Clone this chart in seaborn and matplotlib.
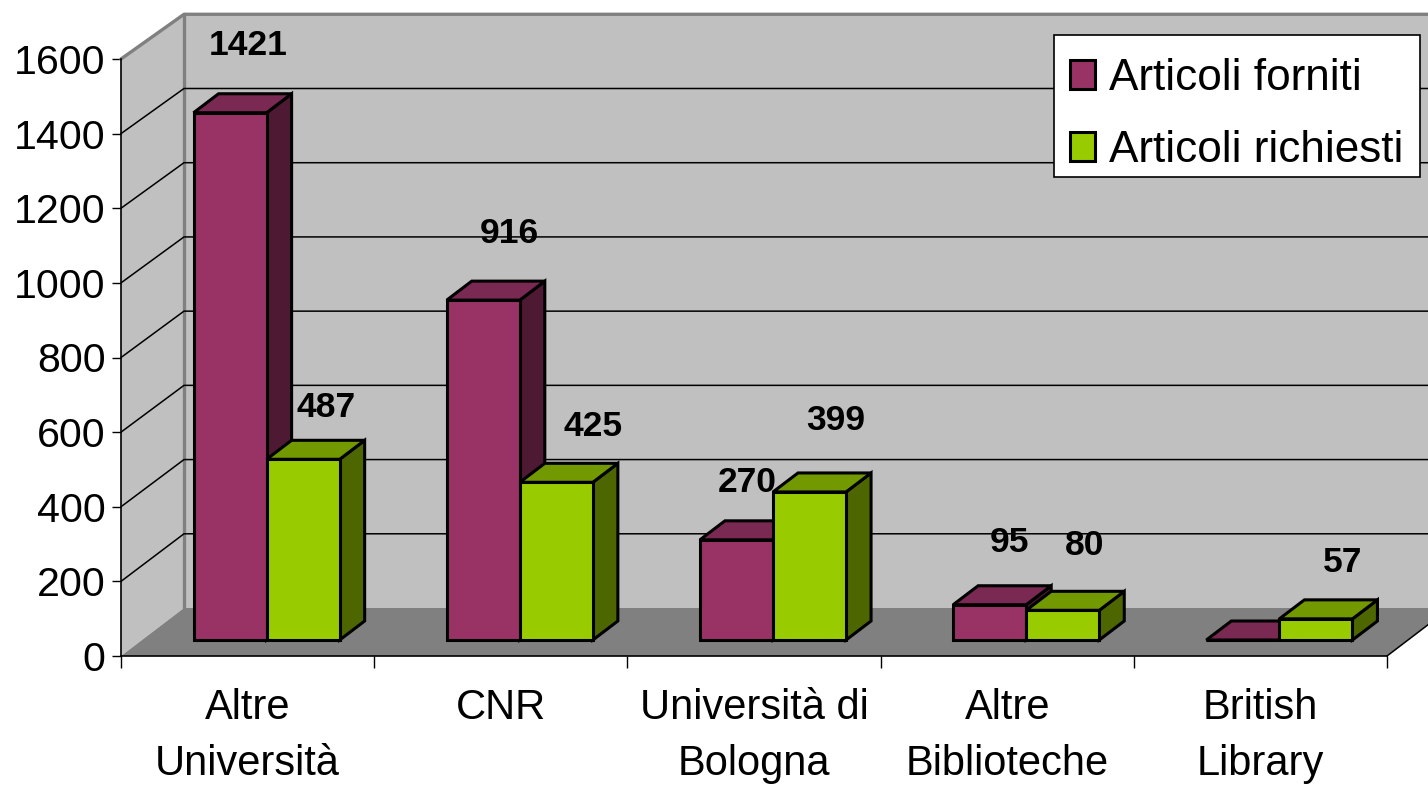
# -*- coding: utf-8 -*-
"""Articoli forniti / richiesti : barres facon Excel 3D, dessinees avec seaborn."""

import matplotlib
matplotlib.use("Agg")
import matplotlib.pyplot as plt
from matplotlib.patches import Polygon, Rectangle
import pandas as pd
import seaborn as sns

# ---------------------------------------------------------------------------
# DATA
# ---------------------------------------------------------------------------
CATEGORIES = ["Altre\nUniversità", "CNR", "Università di\nBologna",
              "Altre\nBiblioteche", "British\nLibrary"]
FORNITI = [1421, 916, 270, 95, 0]
RICHIESTI = [487, 425, 399, 80, 57]
SERIES_NAMES = ["Articoli forniti", "Articoli richiesti"]
Y_TICKS = [0, 200, 400, 600, 800, 1000, 1200, 1400, 1600]

# ---------------------------------------------------------------------------
# STYLE (pixels of the 1428x785 picture)
# ---------------------------------------------------------------------------
W, H = 1428, 785
LEFT, RIGHT, BASE, TOP = 121, 1387, 656, 59
WALL_DX, WALL_DY = 63, 48      # depth of the chart box
WALL_SCALE = 0.9945            # back wall is a touch shorter than the front axis
BAR_SHIFT = (19, 16)           # bars stand on the middle of the floor
BAR_DX, BAR_DY = 25, 19        # depth of a bar
BAR_YMAX = 1609                # bars are a touch shorter than the front axis
EDGE_LW = 2.2
LEGEND_BOX = (1054, 35, 1420, 177)

PALETTE = {
    SERIES_NAMES[0]: {"front": "#993366", "top": "#7A2952", "side": "#4D1933"},
    SERIES_NAMES[1]: {"front": "#99CC00", "top": "#739900", "side": "#4D6600"},
}
WALL, FLOOR = "#C0C0C0", "#808080"

# label offset from the bar's front top centre, in px (right, up)
LABEL_OFFSETS = [[(18, 67), (26, 67), (11, 57), (20, 62), None],
                 [(23, 52), (37, 56), (26, 71), (22, 65), (27, 56)]]

sns.set_theme(style="white")
plt.rcParams["font.family"] = ["Liberation Sans", "DejaVu Sans"]
plt.rcParams["text.color"] = "black"
plt.rcParams["xtick.color"] = "black"
plt.rcParams["ytick.color"] = "black"

df = pd.DataFrame({
    "categoria": CATEGORIES * 2,
    "serie": [SERIES_NAMES[0]] * 5 + [SERIES_NAMES[1]] * 5,
    "valore": FORNITI + RICHIESTI,
})

fig = plt.figure(figsize=(W / 100, H / 100), dpi=100, facecolor="white")
box = [LEFT / W, 1 - BASE / H, (RIGHT - LEFT) / W, (BASE - TOP) / H]
ax = fig.add_axes(box)
ax_bars = fig.add_axes([box[0] + BAR_SHIFT[0] / W, box[1] + BAR_SHIFT[1] / H, box[2], box[3]])
ax_bars.set_zorder(2)

XLIM, YLIM = (-0.5, 4.5), (0, 1600)
px_x = (XLIM[1] - XLIM[0]) / (RIGHT - LEFT)
px_y = (YLIM[1] - YLIM[0]) / (BASE - TOP)
bar_px_y = BAR_YMAX / (BASE - TOP)

# ── Walls and floor ────────────────────────────────────────────────────
ax.set_xlim(XLIM)
ax.set_ylim(YLIM)
ax.patch.set_visible(False)
wx, wy = WALL_DX * px_x, WALL_DY * px_y
x0, x1, y0, y1 = XLIM[0], XLIM[1], YLIM[0], YLIM[1]
far = x1 + 1


def back(value):
    return wy + value * WALL_SCALE


ax.add_patch(Polygon([(x0, y0), (x0 + wx, back(y0)), (x0 + wx, back(y1)), (x0, y1)],
                     fc=WALL, ec="none", clip_on=False, zorder=0.5))
ax.add_patch(Polygon([(x0 + wx, back(y0)), (far, back(y0)), (far, back(y1)), (x0 + wx, back(y1))],
                     fc=WALL, ec="none", clip_on=False, zorder=0.5))
ax.add_patch(Polygon([(x0, y0), (x1, y0), (x1 + wx, back(y0)), (x0 + wx, back(y0))],
                     fc=FLOOR, ec="none", clip_on=False, zorder=0.6))

for tick in Y_TICKS[1:-1]:
    ax.plot([x0, x0 + wx, far], [tick, back(tick), back(tick)], color="black", lw=1.1,
            clip_on=False, zorder=0.8, solid_joinstyle="miter")
ax.plot([x0, x0 + wx, far], [y1, back(y1), back(y1)], color=FLOOR, lw=2.4,
        clip_on=False, zorder=0.9)
ax.plot([x0 + wx, x0 + wx], [back(y0), back(y1)], color=FLOOR, lw=2.4, clip_on=False, zorder=0.7)
ax.plot([x1, x1 + wx], [y0, back(y0)], color="black", lw=1.1, clip_on=False, zorder=0.9)

sns.despine(ax=ax, top=True, right=True)
for side in ("left", "bottom"):
    ax.spines[side].set_color("black")
    ax.spines[side].set_linewidth(1.2)

ax.set_yticks(Y_TICKS)
ax.set_yticklabels([str(t) for t in Y_TICKS], fontsize=29.6)
ax.tick_params(axis="y", left=True, length=6.5, width=1.0, pad=4.5)
ax.set_xticks(range(5))
ax.set_xticklabels(CATEGORIES, fontsize=30, linespacing=1.52, va="top")
ax.set_xticks([x0 + i for i in range(6)], minor=True)
ax.tick_params(axis="x", which="major", bottom=False, length=0, pad=23)
ax.tick_params(axis="x", which="minor", bottom=True, length=8.5, width=1.0)

# ── Bars ───────────────────────────────────────────────────────────────
sns.barplot(data=df, x="categoria", y="valore", hue="serie", ax=ax_bars,
            order=CATEGORIES, hue_order=SERIES_NAMES,
            palette={k: v["front"] for k, v in PALETTE.items()},
            width=146 / 253, gap=0, saturation=1, edgecolor="black", linewidth=EDGE_LW)
ax_bars.set_xlim(XLIM)
ax_bars.set_ylim(0, BAR_YMAX)
ax_bars.axis("off")

bx, by = BAR_DX * px_x, BAR_DY * bar_px_y
for h, (name, container) in enumerate(zip(SERIES_NAMES, ax_bars.containers)):
    colors = PALETTE[name]
    for i, rect in enumerate(container.patches):
        left, width, height = rect.get_x(), rect.get_width(), rect.get_height()
        z = 3 + i * 10 + h * 4
        rect.set_zorder(z + 2)
        rect.set_joinstyle("miter")
        rect.set_clip_on(False)
        right = left + width
        ax_bars.add_patch(Polygon(
            [(right, 0), (right + bx, by), (right + bx, height + by), (right, height)],
            fc=colors["side"], ec="black", lw=EDGE_LW, joinstyle="miter", clip_on=False, zorder=z))
        ax_bars.add_patch(Polygon(
            [(left, height), (right, height), (right + bx, height + by), (left + bx, height + by)],
            fc=colors["top"], ec="black", lw=EDGE_LW, joinstyle="miter", clip_on=False, zorder=z + 1))
        offset = LABEL_OFFSETS[h][i]
        if offset is not None:
            ax_bars.text(left + width / 2 + offset[0] * px_x, height + offset[1] * bar_px_y,
                         str(int(height)), ha="center", va="center", fontsize=25.5,
                         fontweight="bold", color="black", zorder=100, clip_on=False)

# ── Legend ─────────────────────────────────────────────────────────────
bl, bt, br, bb = LEGEND_BOX
ax_bars.add_patch(Rectangle((bl / W, 1 - bb / H), (br - bl) / W, (bb - bt) / H,
                            transform=fig.transFigure, fc="white", ec="black", lw=1.2,
                            clip_on=False, zorder=150))
handles, labels = ax_bars.get_legend_handles_labels()
leg = ax_bars.legend(handles, labels, loc="upper left",
                     bbox_to_anchor=(1070 / W, 1 - 58 / H), bbox_transform=fig.transFigure,
                     fontsize=31.8, frameon=False, borderaxespad=0,
                     borderpad=0, labelspacing=0.70,
                     handlelength=0.57, handleheight=0.64, handletextpad=0.32)
leg.set_zorder(200)
for patch in leg.get_patches():
    patch.set_edgecolor("black")
    patch.set_linewidth(EDGE_LW)

fig.savefig("out.png", dpi=100, facecolor="white")
plt.close(fig)
